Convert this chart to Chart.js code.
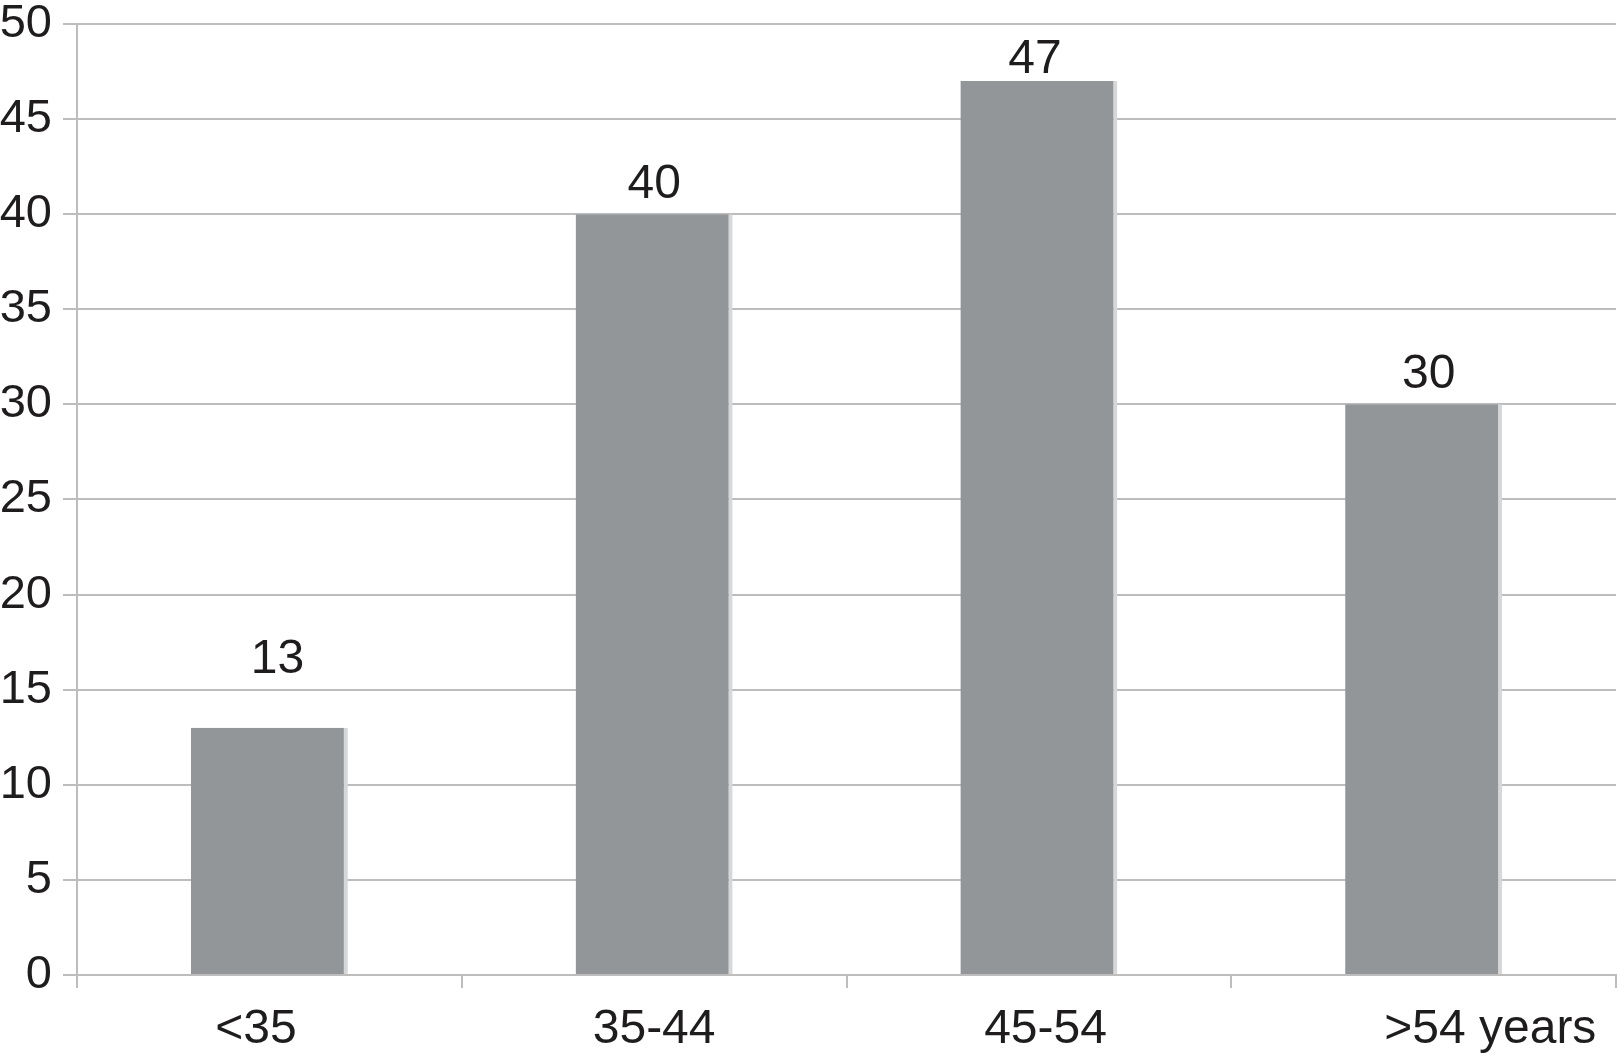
<!DOCTYPE html>
<html>
<head>
<meta charset="utf-8">
<script src="https://cdn.jsdelivr.net/npm/chart.js@4/dist/chart.umd.min.js"></script>
<style>
  html, body { margin: 0; padding: 0; background: #fff; }
  #wrap { width: 1619px; height: 1055px; }
</style>
</head>
<body>
<div id="wrap"><canvas id="chart"></canvas></div>
<script>
// data
const categories = ['<35', '35-44', '45-54', '>54 years']
const values = [13, 40, 47, 30]
const yTicks = [0, 5, 10, 15, 20, 25, 30, 35, 40, 45, 50]

const gridColor = '#bdbdbd'
const textColor = '#1f1c1d'
const fontFamily = '"Liberation Sans", Arial, sans-serif'

// the original's category labels are not quite centred, nudge with spaces
const padBefore = [0, 0, 1, 10]
const padAfter = [2, 0, 0, 0]

// value labels sit at different heights above the bars in the original
const labelGap = [55, 16, 8, 16]
const labelShift = [8, 0, -4, 5]

const valueLabels = {
    id: 'valueLabels',
    afterDatasetsDraw(chart) {
        const ctx = chart.ctx
        const meta = chart.getDatasetMeta(0)
        ctx.save()
        ctx.font = '48px ' + fontFamily
        ctx.fillStyle = textColor
        ctx.textAlign = 'center'
        ctx.textBaseline = 'alphabetic'
        meta.data.forEach((bar, i) => {
            ctx.fillText(String(values[i]), bar.x + labelShift[i], bar.y - labelGap[i])
        })
        ctx.restore()
    }
}

const chart = new Chart(document.getElementById('chart'), {
    type: 'bar',
    data: {
        labels: categories,
        datasets: [{
            data: values,
            backgroundColor: '#939699',
            borderColor: '#d6d7d8',
            borderWidth: {top: 0, left: 0, bottom: 0, right: 4},
            borderSkipped: false,
            categoryPercentage: 0.408,
            barPercentage: 1
        }]
    },
    options: {
        responsive: true,
        maintainAspectRatio: false,
        animation: false,
        layout: {padding: {left: 0, right: 3, top: 0, bottom: 0}},
        plugins: {
            legend: {display: false},
            tooltip: {enabled: false}
        },
        scales: {
            x: {
                afterFit(axis) { axis.height = 80 },
                grid: {
                    offset: true,
                    drawOnChartArea: false,
                    color: gridColor,
                    lineWidth: 2,
                    tickLength: 13
                },
                border: {color: gridColor, width: 2},
                ticks: {
                    color: textColor,
                    font: {family: fontFamily, size: 48},
                    padding: 13,
                    maxRotation: 0,
                    callback(value, i) {
                        return ' '.repeat(padBefore[i]) + categories[i] + ' '.repeat(padAfter[i])
                    }
                }
            },
            y: {
                min: 0,
                max: 50,
                afterBuildTicks(axis) {
                    axis.ticks = yTicks.map(v => ({value: v}))
                },
                afterFit(axis) { axis.width = 77 },
                grid: {
                    color: gridColor,
                    lineWidth: 2,
                    tickLength: 14
                },
                border: {color: gridColor, width: 2},
                ticks: {
                    color: textColor,
                    font: {family: fontFamily, size: 47, lineHeight: 0.55},
                    padding: 11
                }
            }
        }
    },
    plugins: [valueLabels]
})
</script>
</body>
</html>
